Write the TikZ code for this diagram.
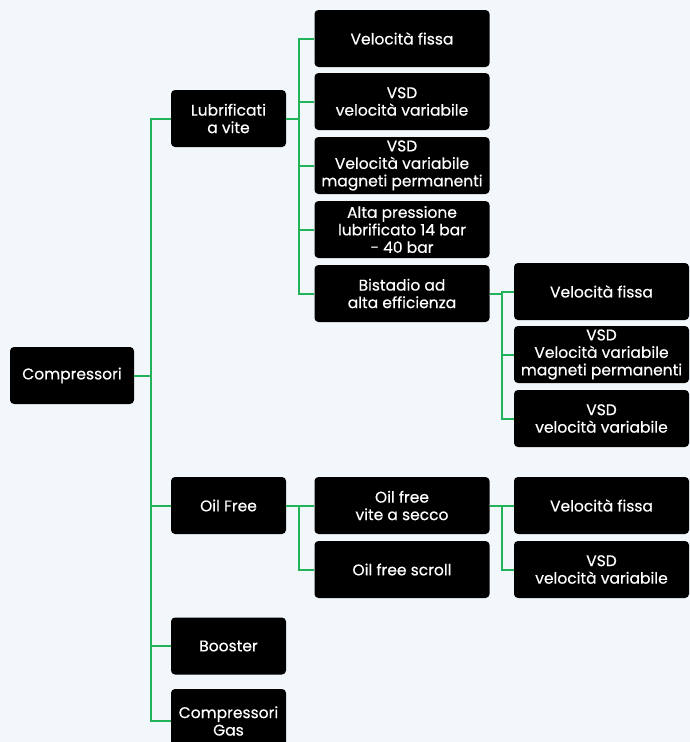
\documentclass[tikz,border=0pt]{standalone}
\usepackage{fontspec}
\setmainfont{Poppins}[FakeBold=0.4]
\usepackage{tikz}
\usetikzlibrary{positioning,calc}
\definecolor{linkgreen}{HTML}{22B25A}
\definecolor{bgblue}{HTML}{F2F7FB}

\begin{document}
\begin{tikzpicture}[x=1pt,y=-1pt,
    box/.style={rectangle, fill=black, rounded corners=4pt, text=white, align=center,
        inner sep=2pt, minimum height=57pt, font=\fontsize{15.5}{17.5}\selectfont},
    lev1/.style={box, minimum width=115pt},
    lev2/.style={box, minimum width=175pt},
    link/.style={draw=linkgreen, line width=2pt}]
            \fill[bgblue] (0,0) rectangle (690,742);
            \useasboundingbox (0,0) rectangle (690,742);

            \node[box, minimum width=124pt] (comp) at (72,375.5) {Compressori};

            \foreach \n/ \y/ \t in {lub/118.5/{Lubrificati\\a vite}, oil/505.5/{Oil Free}, boo/646/{Booster}}{
                \node[lev1] (\n) at (228.5,\y) {\t};
            }
            \node[lev1, minimum height=64pt] (gas) at (228.5,721) {Compressori\\Gas};

            \foreach \n/ \y/ \t in {l1/38.5/{Velocità fissa}, l2/101.5/{VSD\\velocità variabile},
                l3/165.5/{VSD\\Velocità variabile\\magneti permanenti},
                l4/229.5/{Alta pressione\\lubrificato 14 bar\\- 40 bar}, l5/293.5/{Bistadio ad\\alta efficienza},
                o1/505.5/{Oil free\\vite a secco}, o2/569.5/{Oil free scroll}}{
                \node[lev2] (\n) at (402,\y) {\t};
            }

            \foreach \n/ \y/ \t in {b1/291.5/{Velocità fissa}, b2/354.5/{VSD\\Velocità variabile\\magneti permanenti},
                b3/418.5/{VSD\\velocità variabile}, s1/505.5/{Velocità fissa}, s2/569.5/{VSD\\velocità variabile}}{
                \node[lev2] (\n) at (601.5,\y) {\t};
            }


            \foreach \s/ \d in {comp/lub, comp/oil, comp/boo, comp/gas}{
                \draw[link] (\s.east) -- ++(17,0) |- (\d.west);
            }
            \foreach \s/ \d in {lub/l1, lub/l2, lub/l3, lub/l4, lub/l5, oil/o1, oil/o2}{
                \draw[link] (\s.east) -- ++(13,0) |- (\d.west);
            }
            \foreach \s/ \d in {l5/b1, l5/b2, l5/b3, o1/s1, o1/s2}{
                \draw[link] (\s.east) -- ++(12.5,0) |- (\d.west);
            }

    \end{tikzpicture}
\end{document}
